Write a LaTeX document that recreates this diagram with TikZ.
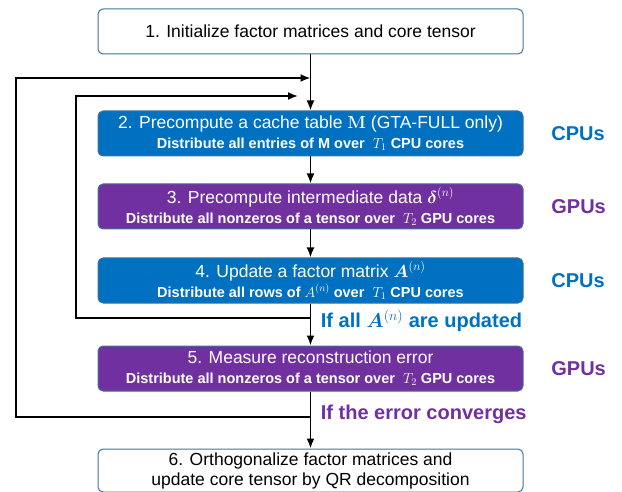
\documentclass[tikz,border=0pt]{standalone}
\usepackage{fix-cm}
\usepackage{amsmath,bm}
\usepackage[no-math]{fontspec}
\setmainfont{Liberation Sans}
\usetikzlibrary{arrows.meta,positioning}

\definecolor{cpublue}{HTML}{0070C0}
\definecolor{gpupurple}{HTML}{7030A0}
\definecolor{edgeblue}{HTML}{41719C}

\newcommand\subline[1]{{\bfseries\fontsize{14.5}{17}\selectfont #1}}

\begin{document}
\begin{tikzpicture}[
        ->,>={Latex[length=10pt,width=8pt]}, x=1pt, y=-1pt,
        line width=1.8pt,
        node distance=27pt
    ]

    \tikzstyle{block} = [rectangle,rounded corners=5pt,draw=edgeblue,line width=1pt,minimum width=425pt,minimum height=45pt,align=center,font=\fontsize{17.5}{20}\selectfont]
    \tikzstyle{cpu} = [block,fill=cpublue,text=white]
    \tikzstyle{gpu} = [block,fill=gpupurple,text=white]
    \tikzstyle{side} = [inner sep=0pt,font=\bfseries\fontsize{20}{24}\selectfont]

    \useasboundingbox (0,0) rectangle (622,492);

    \node[block] (init) at (310.5,31.5) {1. Initialize factor matrices and core tensor};
    \node[cpu] (cache) [below=56pt of init] {2. Precompute a cache table $\mathbf{M}$ (GTA-FULL only)\\
        \subline{Distribute all entries of M over\ \ $T_1$ CPU cores}};
    \node[gpu] (inter) [below=of cache] {3. Precompute intermediate data $\bm{\delta}^{(n)}$\\
        \subline{Distribute all nonzeros of a tensor over\ \ $T_2$ GPU cores}};
    \node[cpu] (update) [below=28pt of inter] {4. Update a factor matrix $\bm{A}^{(n)}$\\
        \subline{Distribute all rows of $A^{(n)}$ over\ \ $T_1$ CPU cores}};
    \node[gpu] (measure) [below=42pt of update] {5. Measure reconstruction error\\
        \subline{Distribute all nonzeros of a tensor over\ \ $T_2$ GPU cores}};
    \node[block,minimum height=43pt] (ortho) [below=57pt of measure] {6. Orthogonalize factor matrices and\\update core tensor by QR decomposition};

    % device labels
    \node[side,text=cpublue,right=27pt of cache] (dev2) {CPUs};
    \node[side,text=gpupurple,right=27pt of inter] (dev3) {GPUs};
    \node[side,text=cpublue,right=27pt of update] (dev4) {CPUs};
    \node[side,text=gpupurple,right=27pt of measure] (dev5) {GPUs};

    % loop conditions
    \node[side,text=cpublue,anchor=west] (alldone) at (320,321) {If all $\bm{A}^{(n)}$ are updated};
    \node[side,text=gpupurple,anchor=west] (converged) at (320,414) {If the error converges};

    \coordinate (outerin) at (init.south |- 0,78);
    \coordinate (innerin) at (298,96);
    \coordinate (innerout) at (update.south |- 0,318);
    \coordinate (outerout) at (measure.south |- 0,417);

    \path[]
        (init)    edge (cache)
        (cache)   edge (inter)
        (inter)   edge (update)
        (update)  edge (measure)
        (measure) edge (ortho)
    ;
    \draw (innerout) -- (76,318) -- (76,96) -- (innerin);
    \draw (outerout) -- (16,417) -- (16,78) -- (outerin);

\end{tikzpicture}
\end{document}
